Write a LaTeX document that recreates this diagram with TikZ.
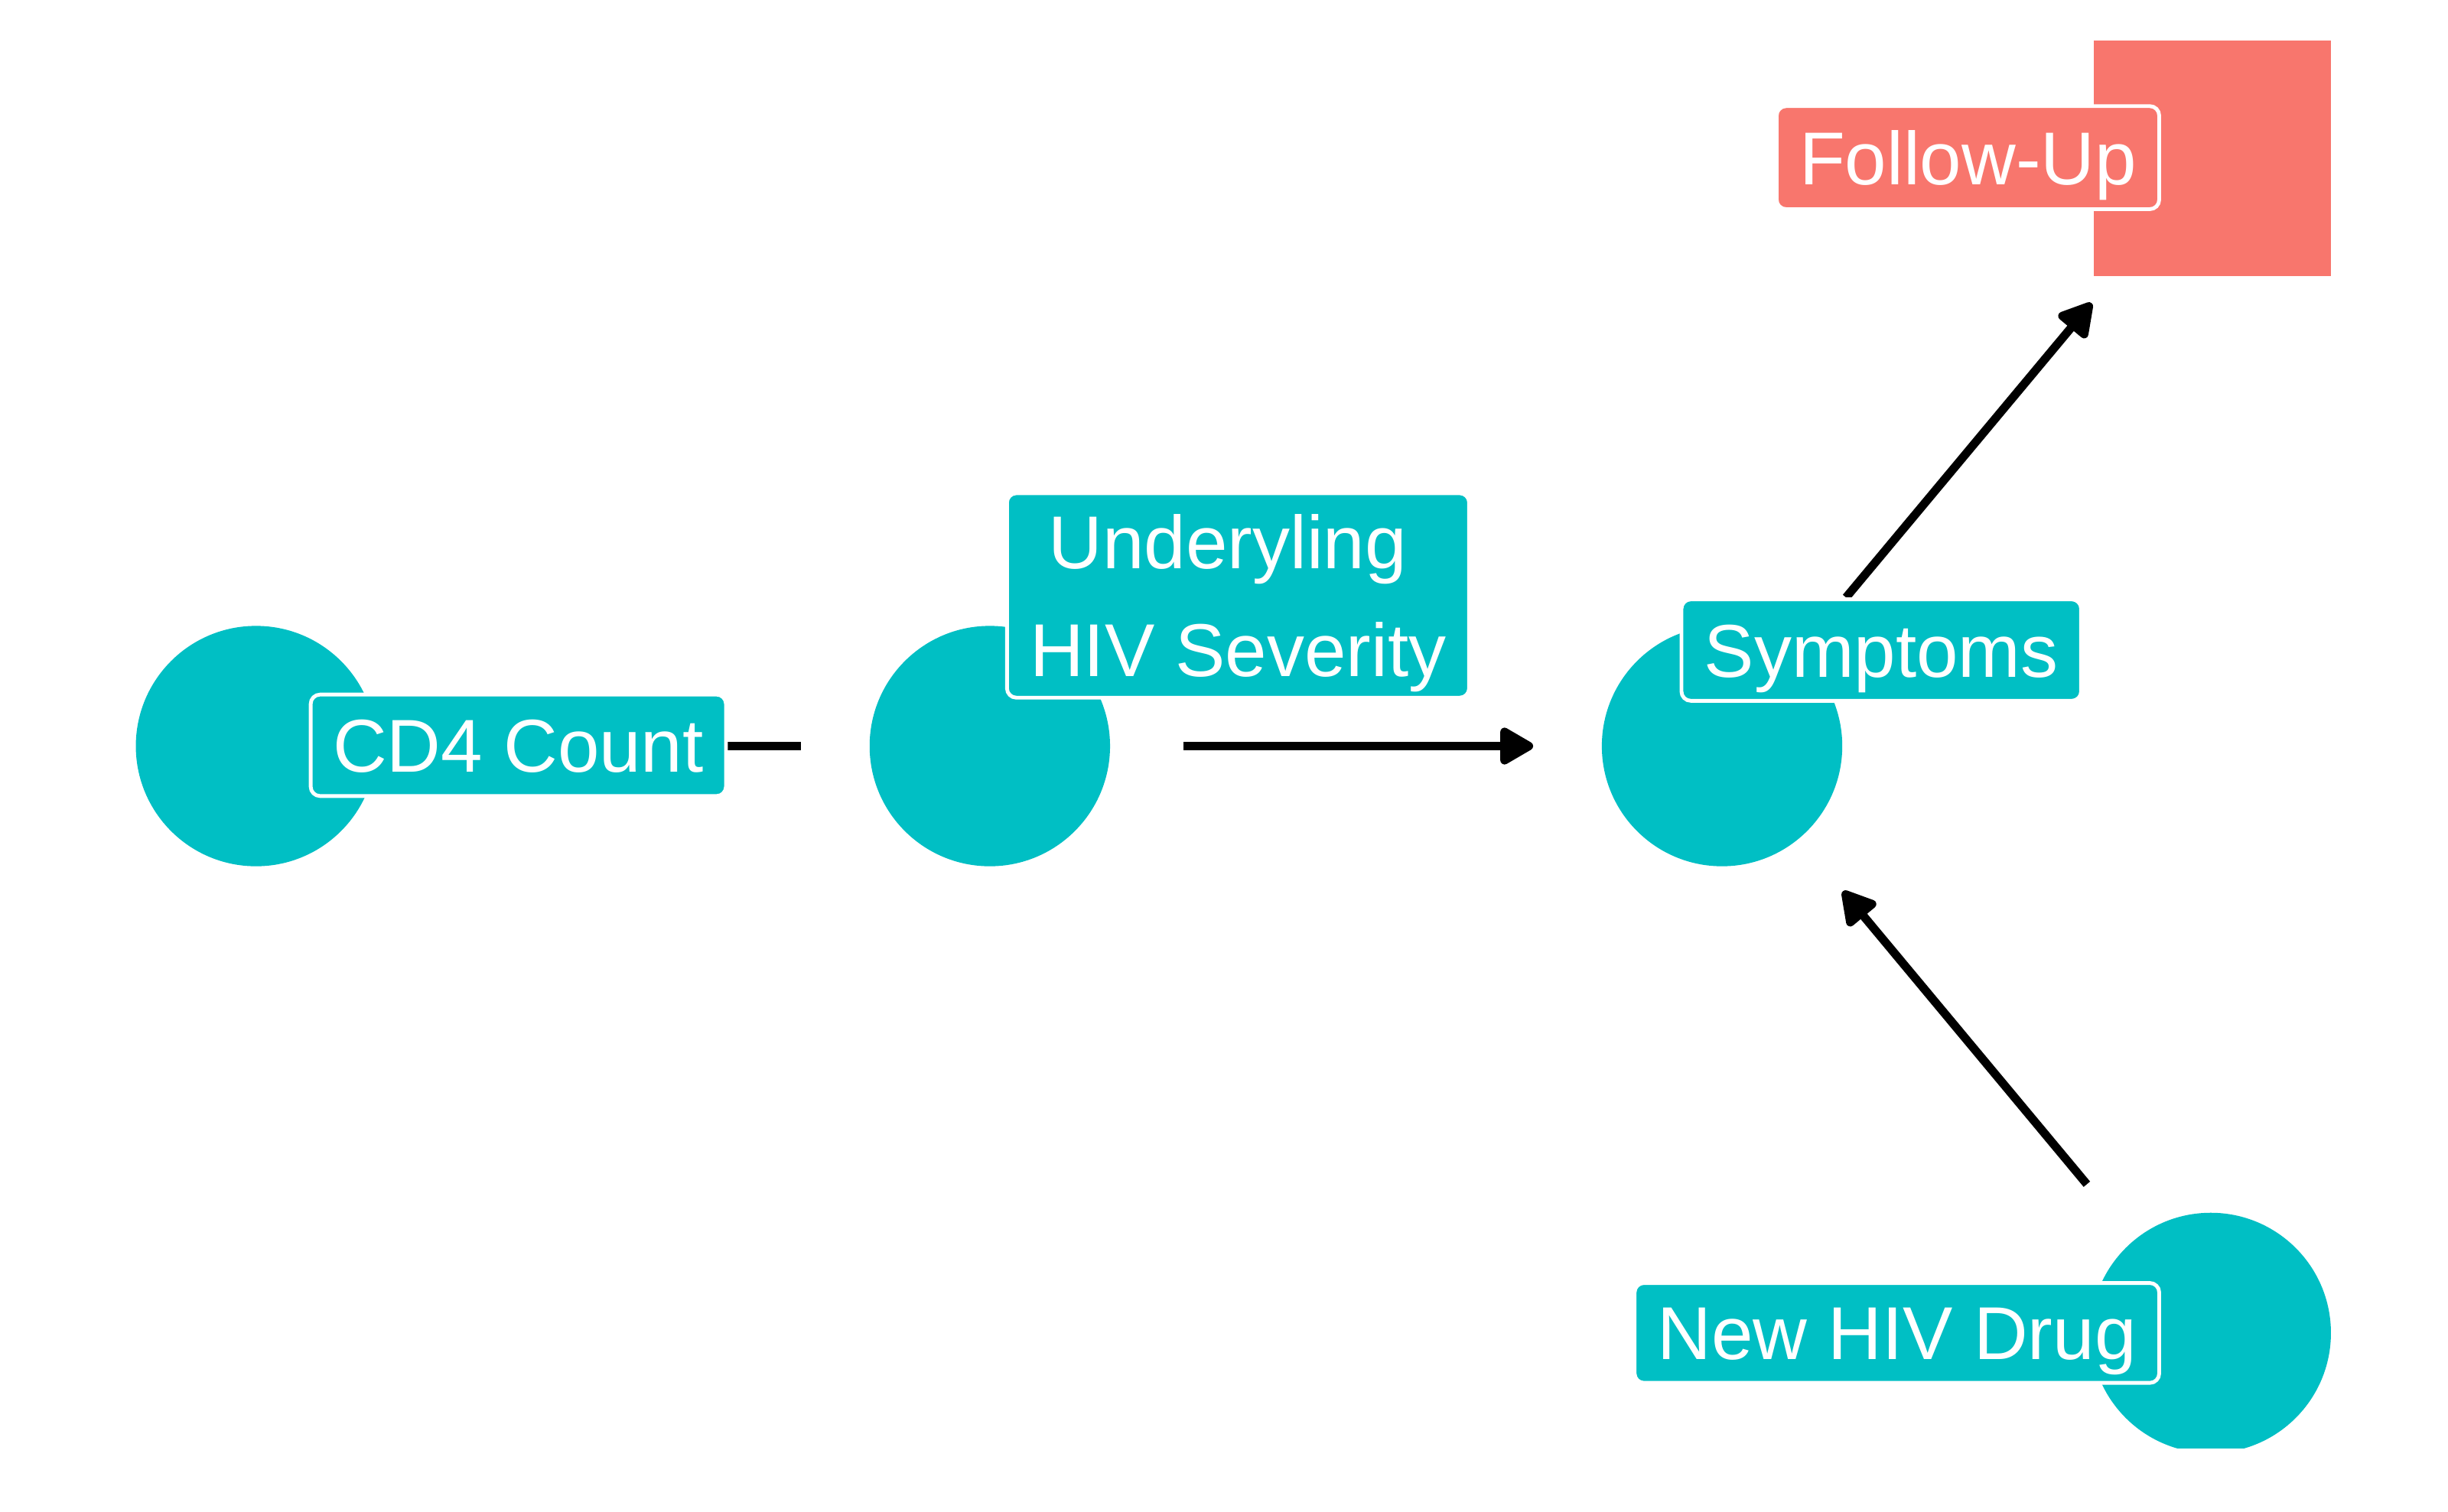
\documentclass[tikz,border=0pt]{standalone}
\usepackage{fontspec}
\setmainfont{Liberation Sans}
\usetikzlibrary{arrows.meta}
\definecolor{ggteal}{HTML}{00BFC4}
\definecolor{ggred}{HTML}{F8766D}
\tikzset{
  dot/.style={circle, fill=ggteal, minimum size=77pt, inner sep=0pt, outer sep=0pt},
  sq/.style={rectangle, fill=ggred, minimum width=76pt, minimum height=75.5pt, inner sep=0pt, outer sep=0pt},
  lab/.style={rounded corners=3pt, draw=white, line width=1.2pt, text=white,
    font=\fontsize{24}{34.5}\selectfont, inner sep=0pt, text height=17.2pt, text depth=0pt, align=center},
  edge/.style={line width=2.7pt, shorten <=23.5pt, shorten >=22pt},
  arr/.style={edge, -{Triangle[length=12pt,width=13pt,round]}}
}
\begin{document}
\begin{tikzpicture}[x=0.5pt,y=-0.5pt]
\useasboundingbox (0,0) rectangle (1568,968.7);
\begin{scope}
\clip (0,0) rectangle (1568,928);
\node[dot] (cd4) at (164,478) {};
\node[dot] (hiv) at (634,478) {};
\node[dot] (sym) at (1103,478) {};
\node[dot] (drug) at (1416,854) {};
\node[sq] (fu) at (1417,101.5) {};
\end{scope}
\draw[edge] (cd4) -- (hiv);
\draw[arr] (hiv) -- (sym);
\draw[arr, shorten >=11.2pt] (sym) -- (fu);
\draw[arr] (drug) -- (sym);
\node[lab, fill=ggteal, minimum width=133pt, minimum height=32.5pt] (cd4lab) at (332,477.5) {CD4 Count};
\node[lab, fill=ggteal, minimum width=148pt, minimum height=65.5pt, text height=51.7pt, text depth=0pt] (hivlab) at (793,381.5) {Underyling\kern6.7pt\\HIV Severity};
\node[lab, fill=ggteal, minimum width=128pt, minimum height=32.5pt] (symlab) at (1205,416.5) {Symptoms};
\node[lab, fill=ggred, minimum width=122.5pt, minimum height=33pt] (fulab) at (1260.5,101) {Follow-Up};
\node[lab, fill=ggteal, minimum width=168pt, minimum height=32pt] (druglab) at (1215,854) {New HIV Drug};
\end{tikzpicture}
\end{document}
